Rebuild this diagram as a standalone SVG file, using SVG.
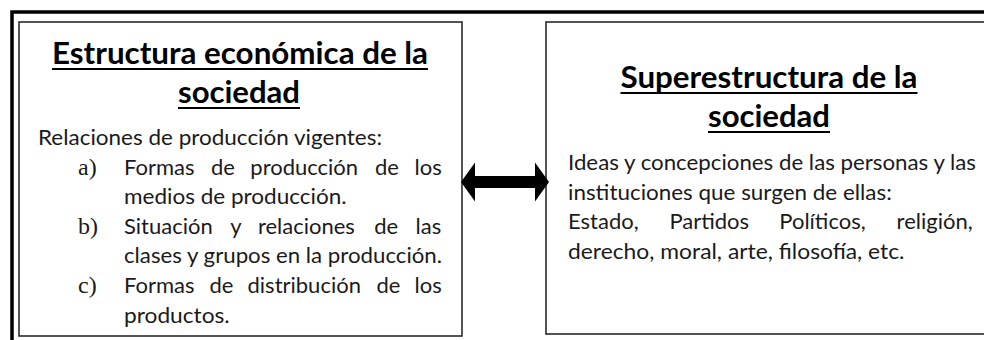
<svg xmlns="http://www.w3.org/2000/svg" width="984" height="340" viewBox="0 0 984 340">
<style>
.frame{fill:none;stroke:#000;stroke-width:3.5}
.box{fill:#fff;stroke:#2a2a2a;stroke-width:1.6}
.title{font-family:Lato,'Liberation Sans',sans-serif;font-weight:700;font-size:30px;fill:#000;text-anchor:middle}
.ul{stroke:#000;stroke-width:2}
.body{font-family:Lato,'Liberation Sans',sans-serif;font-size:22px;fill:#1a1a1a}
.lbl{font-family:'Liberation Serif','Times New Roman',serif;font-size:24px;fill:#1a1a1a}
.arrow{fill:#000}
</style>
<rect width="984" height="340" fill="#fff"/>
<path class="frame" d="M12 340V12H984"/>
<g id="estructura">
<rect class="box" x="19" y="22" width="443" height="314"/>
<text class="title" x="240" y="64" textLength="376" lengthAdjust="spacingAndGlyphs">Estructura económica de la</text>
<line class="ul" x1="52" y1="69" x2="428" y2="69"/>
<text class="title" x="239" y="103" textLength="122" lengthAdjust="spacingAndGlyphs">sociedad</text>
<line class="ul" x1="178" y1="108" x2="300" y2="108"/>
<text class="body" x="38" y="145" textLength="344" lengthAdjust="spacingAndGlyphs">Relaciones de producción vigentes:</text>
<text class="lbl" x="78" y="175">a)</text>
<text class="body" y="175"><tspan x="124">Formas </tspan><tspan x="210.9">de </tspan><tspan x="250.3">producción </tspan><tspan x="375">de </tspan><tspan x="414.5">los</tspan></text>
<text class="body" x="124" y="204" textLength="222.6" lengthAdjust="spacingAndGlyphs">medios de producción.</text>
<text class="lbl" x="78" y="234">b)</text>
<text class="body" y="234"><tspan x="124">Situación </tspan><tspan x="230.3">y </tspan><tspan x="257.9">relaciones </tspan><tspan x="374.3">de </tspan><tspan x="415.6">las</tspan></text>
<text class="body" x="124" y="263" textLength="318" lengthAdjust="spacingAndGlyphs">clases y grupos en la producción.</text>
<text class="lbl" x="78" y="293">c)</text>
<text class="body" y="293"><tspan x="124">Formas </tspan><tspan x="209.5">de </tspan><tspan x="247.5">distribución </tspan><tspan x="376.4">de </tspan><tspan x="414.5">los</tspan></text>
<text class="body" x="124" y="323" textLength="105.7" lengthAdjust="spacingAndGlyphs">productos.</text>
</g>
<g id="superestructura">
<rect class="box" x="546" y="22" width="450" height="312"/>
<text class="title" x="769" y="88" textLength="297" lengthAdjust="spacingAndGlyphs">Superestructura de la</text>
<line class="ul" x1="620.5" y1="93" x2="917.5" y2="93"/>
<text class="title" x="769" y="127" textLength="122" lengthAdjust="spacingAndGlyphs">sociedad</text>
<line class="ul" x1="708" y1="132" x2="830" y2="132"/>
<text class="body" x="568" y="170" textLength="408" lengthAdjust="spacingAndGlyphs">Ideas y concepciones de las personas y las</text>
<text class="body" x="568" y="199.5" textLength="323.8" lengthAdjust="spacingAndGlyphs">instituciones que surgen de ellas:</text>
<text class="body" y="229"><tspan x="568">Estado, </tspan><tspan x="669.4">Partidos </tspan><tspan x="779.3">Políticos, </tspan><tspan x="896.6">religión,</tspan></text>
<text class="body" x="568" y="259" textLength="336.5" lengthAdjust="spacingAndGlyphs">derecho, moral, arte, filosofía, etc.</text>
</g>
<g id="connectors">
<polygon class="arrow" points="461,182 475,162.5 475,176 535,176 535,162.5 549,182 535,201.5 535,188 475,188 475,201.5"/>
</g>
</svg>
